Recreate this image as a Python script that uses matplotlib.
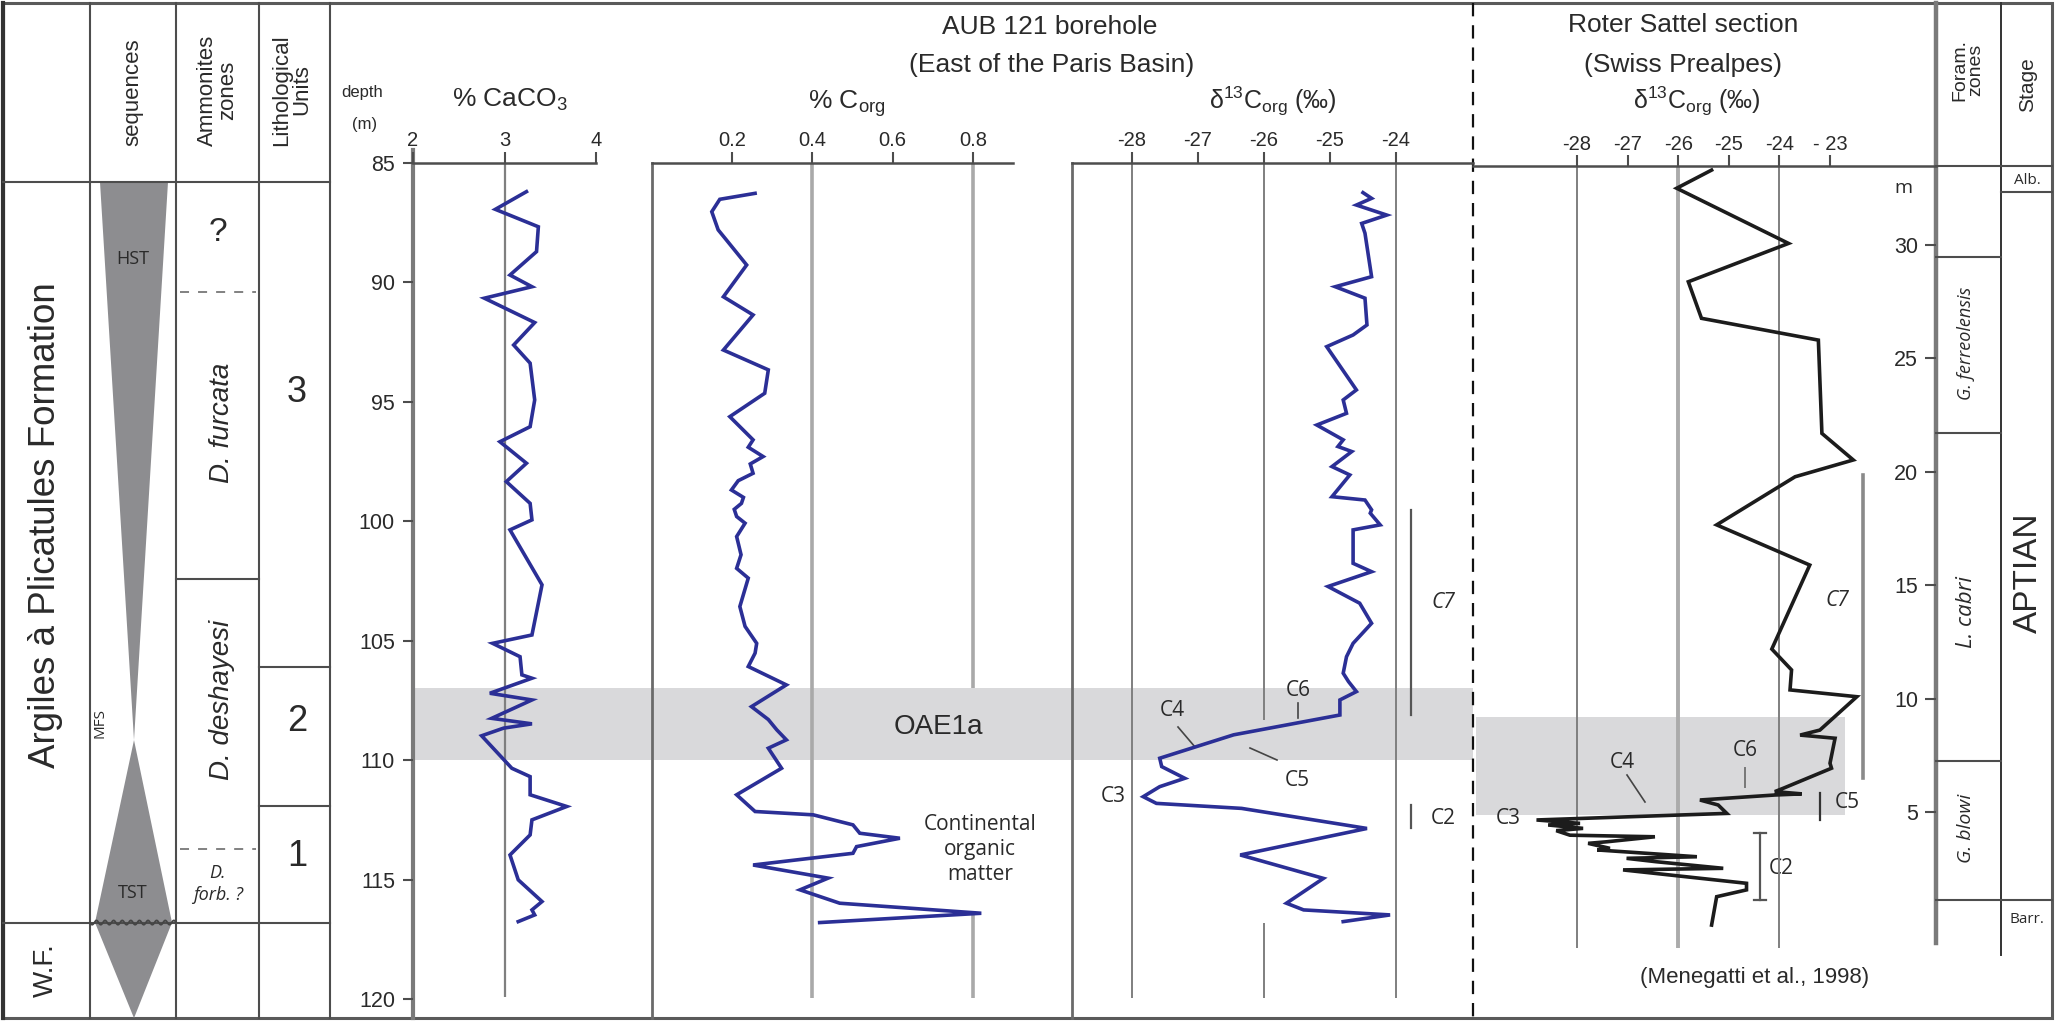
import numpy as np
import matplotlib
matplotlib.use("Agg")
import matplotlib.pyplot as plt
from matplotlib.transforms import blended_transform_factory

plt.rcParams['font.family'] = ['Liberation Sans', 'DejaVu Sans']
plt.rcParams['mathtext.fontset'] = 'custom'
plt.rcParams['mathtext.rm'] = 'Liberation Sans'
plt.rcParams['mathtext.it'] = 'Liberation Sans:italic'
plt.rcParams['axes.unicode_minus'] = False

# ---------------- data ----------------
caco3_depth = [86.2, 86.94, 87.67, 88.71, 89.69, 90.18, 90.66, 91.68, 92.62, 93.38,
               94.92, 96.04, 96.67, 97.57, 98.34, 99.25, 99.94, 100.36, 102.66, 104.76,
               105.11, 105.67, 106.43, 106.57, 107.20, 107.48, 108.25, 108.48, 108.66, 108.98,
               110.34, 110.69, 111.45, 111.94, 112.50, 113.13, 113.97, 115.01, 115.92, 116.27,
               116.48, 116.76]
caco3_pct = [3.24, 2.90, 3.37, 3.35, 3.06, 3.30, 2.78, 3.33, 3.10, 3.28,
             3.33, 3.28, 2.95, 3.24, 3.02, 3.28, 3.30, 3.06, 3.41, 3.30,
             2.87, 3.17, 3.19, 3.30, 2.84, 3.30, 2.86, 3.30, 2.99, 2.75,
             3.08, 3.28, 3.28, 3.68, 3.30, 3.28, 3.06, 3.15, 3.41, 3.30,
             3.33, 3.15]

corg_depth = [86.27, 86.52, 87.04, 87.80, 88.15, 89.27, 90.60, 91.36, 92.83, 93.66,
              94.64, 95.62, 96.59, 96.9, 97.29, 97.6, 97.99, 98.3, 98.69, 99.0,
              99.25, 99.5, 99.80, 100.08, 100.64, 101.4, 101.97, 102.38, 103.57, 104.4,
              105.11, 105.52, 106.08, 106.85, 107.76, 108.3, 108.73, 109.15, 109.50, 110.34,
              111.45, 112.15, 112.29, 112.71, 113.06, 113.27, 113.62, 113.90, 114.39, 114.94,
              115.43, 115.99, 116.41, 116.80]
corg_pct = [0.257, 0.169, 0.149, 0.165, 0.182, 0.236, 0.178, 0.252, 0.178, 0.290,
            0.281, 0.194, 0.252, 0.240, 0.277, 0.245, 0.252, 0.215, 0.198, 0.228,
            0.223, 0.205, 0.211, 0.232, 0.211, 0.222, 0.211, 0.240, 0.219, 0.232,
            0.261, 0.257, 0.240, 0.335, 0.248, 0.290, 0.311, 0.335, 0.290, 0.323,
            0.211, 0.257, 0.402, 0.501, 0.518, 0.618, 0.510, 0.501, 0.252, 0.439,
            0.369, 0.468, 0.821, 0.418]

aub_depth = [86.24, 86.48, 86.76, 87.18, 87.53, 87.94, 89.76, 90.18, 90.66, 91.78,
             92.20, 92.69, 94.50, 94.92, 95.48, 95.97, 96.59, 96.87, 97.08, 97.71,
             98.06, 98.97, 99.11, 99.52, 99.66, 100.15, 100.36, 101.76, 102.11, 102.73,
             103.43, 104.27, 105.11, 105.67, 106.36, 106.71, 107.13, 107.48, 108.11, 108.94,
             109.92, 110.27, 110.76, 111.11, 111.53, 111.81, 112.02, 112.86, 113.97, 114.95,
             115.99, 116.27, 116.48, 116.76]
aub_d13c = [-24.50, -24.37, -24.60, -24.14, -24.52, -24.47, -24.37, -24.92, -24.47, -24.44,
            -24.65, -25.05, -24.60, -24.80, -24.75, -25.20, -24.80, -24.88, -24.67, -24.97,
            -24.70, -24.97, -24.47, -24.37, -24.39, -24.24, -24.65, -24.65, -24.37, -25.03,
            -24.55, -24.37, -24.65, -24.75, -24.80, -24.72, -24.60, -24.85, -24.85, -26.46,
            -27.58, -27.55, -27.20, -27.58, -27.83, -27.63, -26.34, -24.44, -26.36, -25.10,
            -25.66, -25.40, -24.09, -24.80]

roter_m = [33.30, 32.50, 30.07, 28.38, 26.77, 25.81, 21.70, 20.53, 19.79, 17.67,
           15.90, 12.20, 11.28, 10.40, 10.10, 8.63, 8.41, 8.27, 7.17, 6.95,
           6.07, 5.92, 5.82, 5.77, 5.55, 5.33, 4.96, 4.67, 4.52, 4.45,
           4.30, 4.20, 4.00, 3.93, 3.71, 3.64, 3.42, 3.35, 3.05, 2.98,
           2.83, 2.54, 2.47, 1.88, 1.59, 1.29, 0.04]
roter_d13c = [-25.34, -26.03, -23.82, -25.80, -25.54, -23.23, -23.16, -22.54, -23.69, -25.24,
              -23.40, -24.15, -23.76, -23.79, -22.47, -23.20, -23.59, -22.90, -23.00, -22.97,
              -23.92, -24.09, -23.56, -24.09, -25.57, -25.21, -25.04, -28.80, -27.94, -28.57,
              -27.88, -28.41, -28.14, -26.46, -27.41, -27.78, -27.35, -27.60, -25.63, -27.02,
              -26.43, -25.11, -27.09, -24.65, -24.65, -25.24, -25.34]

depth_ticks = [85, 90, 95, 100, 105, 110, 115, 120]
caco3_ticks = [2, 3, 4]
corg_ticks = [0.2, 0.4, 0.6, 0.8]
aub_ticks = [-28, -27, -26, -25, -24]
roter_ticks = [-28, -27, -26, -25, -24, -23]
roter_ticklabels = ['-28', '-27', '-26', '-25', '-24', '- 23']
m_ticks = [5, 10, 15, 20, 25, 30]

oae_depth = (107.0, 110.0)
oae_roter_m = (4.89, 9.21)

formation_base = 116.8
mfs_depth = 109.16
ammonite_dashed = [90.4, 113.7]
ammonite_solid = [102.4]
litho_bounds = [106.1, 111.9]
litho_names = ['3', '2', '1']
litho_label_depth = [94.6, 108.4, 114.05]

foram_bounds = [29.47, 21.72, 7.27]
foram_names = ['G. ferreolensis', 'L. cabri', 'G. blowi']
foram_label_m = [25.68, 13.83, 4.32]
foram_label_size = [13, 16, 14]
alb_base_m = 32.33
barr_top_m = 1.15

# ---------------- layout ----------------
W, H = 2056, 1024
fig = plt.figure(figsize=(W / 100, H / 100), dpi=100)
bg = fig.add_axes([0, 0, 1, 1])
bg.set_xlim(0, W)
bg.set_ylim(H, 0)
bg.axis('off')

BLUE = '#2b2f96'
FRAME = '#4d4d4d'
GRID = '#7f7f7f'
BAND = '#d9d9db'
TRI = '#8d8d90'
TXT = '#2a2a2a'


def panel(x0, x1, y0, y1, xlim, ylim):
    ax = fig.add_axes([x0 / W, 1 - y1 / H, (x1 - x0) / W, (y1 - y0) / H])
    ax.set_xlim(*xlim)
    ax.set_ylim(*ylim)
    ax.patch.set_alpha(0)
    for s in ax.spines.values():
        s.set_visible(False)
    ax.tick_params(axis='y', left=False, labelleft=False)
    ax.tick_params(axis='x', bottom=False, labelbottom=False)
    return ax


def top_axis(ax, ticks, labels=None):
    ax.spines['top'].set_visible(True)
    ax.spines['top'].set_color(FRAME)
    ax.spines['top'].set_linewidth(1.8)
    ax.xaxis.tick_top()
    ax.set_xticks(ticks)
    if labels is not None:
        ax.set_xticklabels(labels)
    ax.tick_params(axis='x', top=True, labeltop=True, direction='out', length=8,
                   width=1.5, pad=1, labelsize=14.5, colors=FRAME, labelcolor=TXT)


# depth -> px: 85 at 163, 120 at 999
ax_ca = panel(413, 596, 163, 999, (2, 4), (120, 85))
ax_co = panel(652, 1013, 163, 999, (0, 0.9), (120, 85))
ax_d1 = panel(1072, 1473, 163, 999, (-28 - 60 / 66, -28 + 341 / 66), (120, 85))
ax_d2 = panel(1473, 1936, 166, 948, (-28 - 104 / 50.6, -28 + 359 / 50.6), (-0.97, 33.48))
ax_m = panel(1936, 2001, 166, 948, (0, 1), (-0.97, 33.48))

top_axis(ax_ca, caco3_ticks)
top_axis(ax_co, corg_ticks)
top_axis(ax_d1, aub_ticks)
top_axis(ax_d2, roter_ticks, roter_ticklabels)

ax_ca.set_yticks(depth_ticks)
ax_ca.tick_params(axis='y', left=True, labelleft=True, direction='out', length=7,
                  width=1.5, pad=6, labelsize=15.5, colors=FRAME, labelcolor=TXT)
ax_m.set_yticks(m_ticks)
ax_m.tick_params(axis='y', left=True, labelleft=True, direction='out', length=8,
                 width=1.5, pad=5, labelsize=15.5, colors=FRAME, labelcolor=TXT)

dep = blended_transform_factory(bg.transData, ax_ca.transData)
mtr = blended_transform_factory(bg.transData, ax_d2.transData)

# ---------------- bands ----------------
bg.fill_between([413, 1473], oae_depth[0], oae_depth[1], transform=dep, color=BAND, lw=0, zorder=0)
bg.fill_between([1476, 1845], oae_roter_m[0], oae_roter_m[1], transform=mtr, color=BAND, lw=0, zorder=0)

# ---------------- grid lines ----------------
ax_ca.vlines(3, 85, 119.9, color=GRID, lw=1.6, zorder=1)
ax_co.vlines(0.4, 85, 119.95, color='#a9a9a9', lw=2.6, zorder=1)
ax_co.vlines(0.8, 85, oae_depth[0], color='#a9a9a9', lw=2.6, zorder=1)
ax_co.vlines(0.8, 116.3, 119.95, color='#a9a9a9', lw=2.6, zorder=1)
ax_d1.vlines([-28, -24], 85, 119.95, color=GRID, lw=1.4, zorder=1)
ax_d1.vlines(-26, 85, 108.3, color=GRID, lw=1.4, zorder=1)
ax_d1.vlines(-26, 116.8, 119.95, color=GRID, lw=1.4, zorder=1)
ax_d2.vlines([-28, -24], -0.97, 33.48, color=GRID, lw=1.4, zorder=1)
ax_d2.vlines(-26, -0.97, 33.48, color='#ababab', lw=2.8, zorder=1)

# ---------------- curves ----------------
ax_ca.plot(caco3_pct, caco3_depth, color=BLUE, lw=2.6, zorder=3, solid_joinstyle='miter')
ax_co.plot(corg_pct, corg_depth, color=BLUE, lw=2.6, zorder=3, solid_joinstyle='miter')
ax_d1.plot(aub_d13c, aub_depth, color=BLUE, lw=2.6, zorder=3, solid_joinstyle='miter')
ax_d2.plot(roter_d13c, roter_m, color='#1c1c1c', lw=2.6, zorder=3, solid_joinstyle='miter')

# ---------------- frame ----------------
ln = dict(color=FRAME, lw=1.5)
bg.add_patch(plt.Rectangle((3, 3), 2049, 1015, fill=False, ec='#5a5a5a', lw=2.2))
bg.plot([3, 3], [3, 1018], color='#333333', lw=3)
for x in [90, 176, 259, 330]:
    bg.plot([x, x], [3, 1018], **ln)
bg.plot([3, 330], [182, 182], **ln)
bg.plot([3, 330], [formation_base, formation_base], transform=dep, **ln)
for d in ammonite_solid:
    bg.plot([176, 259], [d, d], transform=dep, **ln)
for d in ammonite_dashed:
    bg.plot([180, 256], [d, d], transform=dep, color='#777777', lw=1.3, ls=(0, (5, 5)))
for d in litho_bounds:
    bg.plot([259, 330], [d, d], transform=dep, **ln)

bg.plot([413, 413], [150, 1018], color='#7a7a7a', lw=3)          # depth axis
bg.plot([652, 652], [163, 1018], color='#6a6a6a', lw=2)          # Corg frame
bg.plot([1072, 1072], [163, 1018], color='#6a6a6a', lw=2)        # d13C frame
bg.plot([1473, 1473], [3, 1018], color='#111111', lw=1.6, ls=(0, (6, 4)))
bg.plot([1936, 1936], [3, 943], color='#7a7a7a', lw=3.2)         # m axis
bg.plot([2001, 2001], [3, 955], color='#333333', lw=1.4)
bg.plot([1936, 2052], [166, 166], **ln)
bg.plot([2001, 2052], [alb_base_m, alb_base_m], transform=mtr, **ln)
bg.plot([1936, 2052], [barr_top_m, barr_top_m], transform=mtr, **ln)
for mb in foram_bounds:
    bg.plot([1936, 2001], [mb, mb], transform=mtr, **ln)

# ---------------- sequences ----------------
bg.fill([100, 168, 134], [85.8, 85.8, mfs_depth], transform=dep, color=TRI, lw=0)
bg.fill([134, 172, 134, 95], [mfs_depth, formation_base, 120.8, formation_base],
        transform=dep, color=TRI, lw=0)
wx = np.linspace(90, 176, 300)
bg.plot(wx, formation_base + 0.09 * np.sin(2 * np.pi * (wx - 90) / 8.6), transform=dep,
        color='#444444', lw=1.3)

# ---------------- left column texts ----------------
t = dict(ha='center', va='center', color=TXT)
bg.text(46, 525, 'Argiles à Plicatules Formation', rotation=90, fontsize=26.5, **t)
bg.text(46, 970, 'W.F.', rotation=90, fontsize=20, **t)
bg.text(133, 92, 'sequences', rotation=90, fontsize=16, **t)
bg.text(218, 90, 'Ammonites\nzones', rotation=90, fontsize=16, linespacing=0.95, **t)
bg.text(292, 90, 'Lithological\nUnits', rotation=90, fontsize=16, linespacing=0.95, **t)
bg.text(133, 89.0, 'HST', transform=dep, fontsize=13, family='Open Sans', **t)
bg.text(133, 115.56, 'TST', transform=dep, fontsize=13, family='Open Sans', **t)
bg.text(100, 108.44, 'MFS', transform=dep, rotation=90, fontsize=11, family='Open Sans', **t)
bg.text(218, 87.93, '?', transform=dep, fontsize=24, **t)
bg.text(222, 95.88, 'D. furcata', transform=dep, rotation=90, fontsize=20, style='italic', **t)
bg.text(222, 107.48, 'D. deshayesi', transform=dep, rotation=90, fontsize=20, style='italic', **t)
bg.text(218, 114.72, 'D.', transform=dep, fontsize=13, style='italic', family='Open Sans', **t)
bg.text(218, 115.65, 'forb. ?', transform=dep, fontsize=13, style='italic', family='Open Sans', **t)
for name, d in zip(litho_names, litho_label_depth):
    bg.text(297, d, name, transform=dep, fontsize=26, **t)

bg.text(362, 93, 'depth', fontsize=12, **t)
bg.text(365, 125, '(m)', fontsize=12, **t)

# ---------------- panel titles ----------------
bg.text(510, 100, r'% CaCO$_{3}$', fontsize=19, **t)
bg.text(847, 104, r'% C$_{\mathrm{org}}$', fontsize=19, **t)
bg.text(1050, 27, 'AUB 121 borehole', fontsize=19, **t)
bg.text(1052, 65, '(East of the Paris Basin)', fontsize=19, **t)
bg.text(1273, 101, r'δ$^{13}$C$_{\mathrm{org}}$ (‰)', fontsize=18, **t)
bg.text(1683, 25, 'Roter Sattel section', fontsize=19, **t)
bg.text(1683, 65, '(Swiss Prealpes)', fontsize=19, **t)
bg.text(1697, 101, r'δ$^{13}$C$_{\mathrm{org}}$ (‰)', fontsize=18, **t)

bg.text(938, 727, 'OAE1a', fontsize=20, **t)
bg.text(980, 850, 'Continental\norganic\nmatter', fontsize=15, family='Open Sans',
        linespacing=1.25, **t)

# ---------------- C-segment annotations ----------------
c = dict(ha='center', va='center', color=TXT, fontsize=15, family='Open Sans')
bg.text(1298, 690, 'C6', **c)
bg.plot([1298, 1298], [703, 718], color='#444444', lw=1.2)
bg.text(1172, 710, 'C4', **c)
bg.plot([1178, 1195], [727, 747], color='#444444', lw=1.2)
bg.text(1297, 781, 'C5', **c)
bg.plot([1250, 1277], [748, 760], color='#444444', lw=1.2)
bg.text(1113, 797, 'C3', **c)
bg.text(1443, 602, 'C7', style='italic', **c)
bg.plot([1411, 1411], [510, 715], color='#555555', lw=1.6)
bg.text(1443, 818, 'C2', **c)
bg.plot([1411, 1411], [805, 828], color='#555555', lw=1.6)

bg.text(1837, 600, 'C7', style='italic', **c)
bg.plot([1863, 1863], [475, 778], color='#8a8a8a', lw=2.6)
bg.text(1745, 750, 'C6', **c)
bg.plot([1745, 1745], [768, 787], color='#777777', lw=1.4)
bg.text(1622, 762, 'C4', **c)
bg.plot([1627, 1645], [775, 802], color='#444444', lw=1.2)
bg.text(1508, 818, 'C3', **c)
bg.text(1847, 802, 'C5', **c)
bg.plot([1820, 1820], [793, 820], color='#333333', lw=1.6)
bg.text(1781, 868, 'C2', **c)
bg.plot([1760, 1760], [833, 900], color='#555555', lw=1.6)
bg.plot([1754, 1766], [833, 833], color='#555555', lw=1.6)
bg.plot([1754, 1766], [900, 900], color='#555555', lw=1.6)
bg.text(1755, 978, '(Menegatti et al., 1998)', fontsize=16, **t)

# ---------------- right columns ----------------
bg.text(1903, 188, 'm', fontsize=14, family='Open Sans', **t)
bg.text(1968, 70, 'Foram.\nzones', rotation=90, fontsize=14, linespacing=0.9, **t)
bg.text(2028, 85, 'Stage', rotation=90, fontsize=15, **t)
bg.text(2027, 32.86, 'Alb.', transform=mtr, fontsize=11, family='Open Sans', **t)
bg.text(2027, 0.3, 'Barr.', transform=mtr, fontsize=11, family='Open Sans', **t)
for name, mm, fs in zip(foram_names, foram_label_m, foram_label_size):
    bg.text(1966, mm, name, transform=mtr, rotation=90, fontsize=fs, style='italic',
            family='Open Sans', **t)
bg.text(2028, 15.55, 'APTIAN', transform=mtr, rotation=90, fontsize=24, **t)

fig.savefig('out.png', dpi=100)
